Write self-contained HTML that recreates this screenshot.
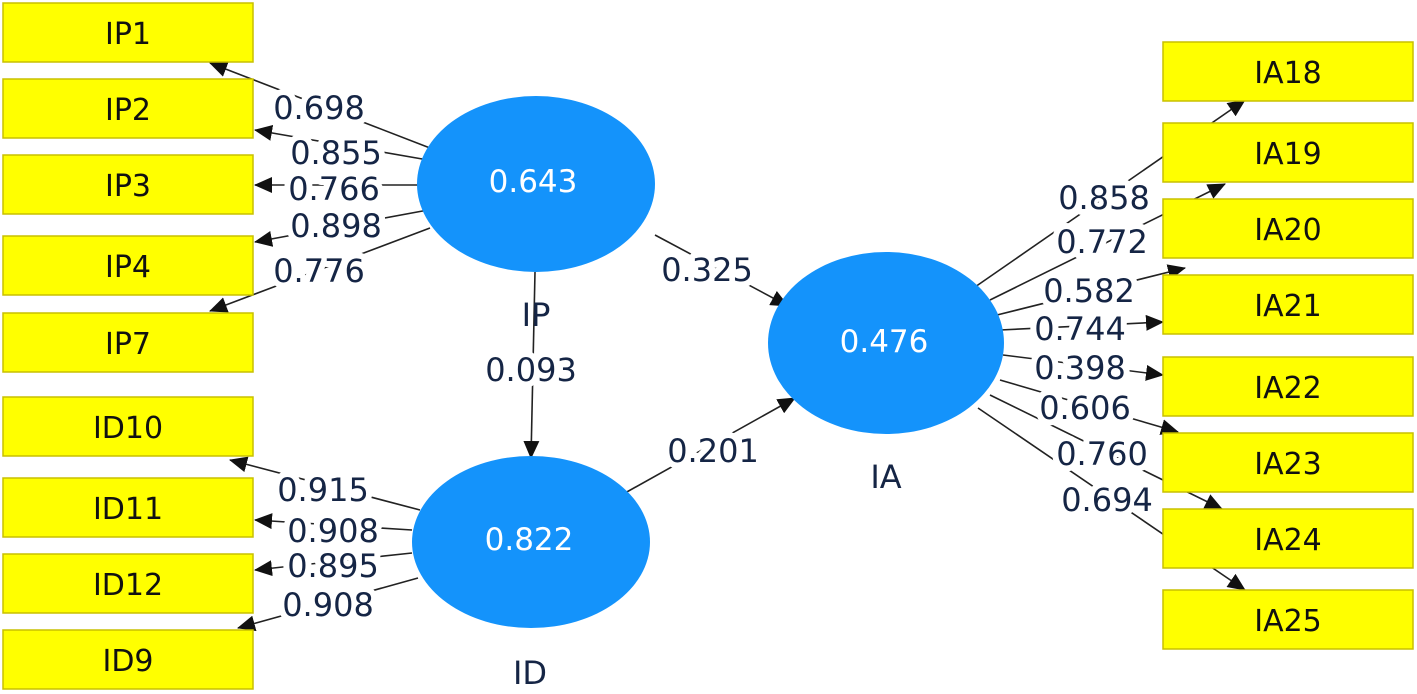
<!DOCTYPE html>
<html><head><meta charset="utf-8"><style>
html,body{margin:0;padding:0;background:#fff;}
svg{display:block;font-family:"DejaVu Sans","Liberation Sans",sans-serif;}
.bx{fill:#ffff00;stroke:#c8c000;stroke-width:1.5;}
.bt{font-size:30px;fill:#111;text-anchor:middle;}
.lb{font-size:32px;fill:#152545;text-anchor:middle;paint-order:stroke;stroke:#fff;stroke-width:12px;stroke-linejoin:round;}
.ct{font-size:31px;fill:#fff;text-anchor:middle;}
line{stroke:#222;stroke-width:1.6;}
</style></head><body>
<svg width="1417" height="694" viewBox="0 0 1417 694" xmlns="http://www.w3.org/2000/svg">
<defs><marker id="b" markerWidth="18" markerHeight="16" refX="17" refY="8" orient="auto" markerUnits="userSpaceOnUse"><path d="M0,0 L18,8 L0,16 z" fill="#111"/></marker></defs>
<g marker-end="url(#b)">
<line x1="430" y1="148" x2="210" y2="63"/>
<line x1="428" y1="160" x2="255" y2="130"/>
<line x1="418" y1="185" x2="255" y2="185"/>
<line x1="428" y1="210" x2="255" y2="242"/>
<line x1="430" y1="228" x2="210" y2="311"/>
<line x1="420" y1="510" x2="230" y2="460"/>
<line x1="412" y1="530" x2="255" y2="520"/>
<line x1="412" y1="553" x2="255" y2="570"/>
<line x1="418" y1="578" x2="238" y2="628"/>
<line x1="655" y1="235" x2="788" y2="306"/>
<line x1="625" y1="493" x2="795" y2="398"/>
<line x1="535" y1="272" x2="531" y2="458"/>
<line x1="975" y1="287" x2="1245" y2="100"/>
<line x1="990" y1="300" x2="1225" y2="184"/>
<line x1="997" y1="315" x2="1185" y2="268"/>
<line x1="1000" y1="330" x2="1163" y2="322"/>
<line x1="1003" y1="355" x2="1163" y2="375"/>
<line x1="1000" y1="380" x2="1178" y2="432"/>
<line x1="990" y1="395" x2="1222" y2="509"/>
<line x1="978" y1="408" x2="1245" y2="590"/>
</g>
<rect class="bx" x="3" y="3" width="250" height="59"/><text class="bt" x="128" y="44">IP1</text>
<rect class="bx" x="3" y="79" width="250" height="59"/><text class="bt" x="128" y="120">IP2</text>
<rect class="bx" x="3" y="155" width="250" height="59"/><text class="bt" x="128" y="196">IP3</text>
<rect class="bx" x="3" y="236" width="250" height="59"/><text class="bt" x="128" y="277">IP4</text>
<rect class="bx" x="3" y="313" width="250" height="59"/><text class="bt" x="128" y="354">IP7</text>
<rect class="bx" x="3" y="397" width="250" height="59"/><text class="bt" x="128" y="438">ID10</text>
<rect class="bx" x="3" y="478" width="250" height="59"/><text class="bt" x="128" y="519">ID11</text>
<rect class="bx" x="3" y="554" width="250" height="59"/><text class="bt" x="128" y="595">ID12</text>
<rect class="bx" x="3" y="630" width="250" height="59"/><text class="bt" x="128" y="671">ID9</text>
<rect class="bx" x="1163" y="42" width="250" height="59"/><text class="bt" x="1288" y="83">IA18</text>
<rect class="bx" x="1163" y="123" width="250" height="59"/><text class="bt" x="1288" y="164">IA19</text>
<rect class="bx" x="1163" y="199" width="250" height="59"/><text class="bt" x="1288" y="240">IA20</text>
<rect class="bx" x="1163" y="275" width="250" height="59"/><text class="bt" x="1288" y="316">IA21</text>
<rect class="bx" x="1163" y="357" width="250" height="59"/><text class="bt" x="1288" y="398">IA22</text>
<rect class="bx" x="1163" y="433" width="250" height="59"/><text class="bt" x="1288" y="474">IA23</text>
<rect class="bx" x="1163" y="509" width="250" height="59"/><text class="bt" x="1288" y="550">IA24</text>
<rect class="bx" x="1163" y="590" width="250" height="59"/><text class="bt" x="1288" y="631">IA25</text>
<ellipse cx="536" cy="184" rx="119" ry="88" fill="#1493fb"/>
<ellipse cx="886" cy="343" rx="118" ry="91" fill="#1493fb"/>
<ellipse cx="531" cy="542" rx="119" ry="86" fill="#1493fb"/>
<text class="ct" x="533" y="192">0.643</text>
<text class="ct" x="884" y="352">0.476</text>
<text class="ct" x="529" y="550">0.822</text>
<text class="lb" x="536" y="326" style="stroke:none">IP</text>
<text class="lb" x="886" y="488" style="stroke:none">IA</text>
<text class="lb" x="530" y="684" style="stroke:none">ID</text>
<text class="lb" x="319" y="119">0.698</text>
<text class="lb" x="336" y="164">0.855</text>
<text class="lb" x="334" y="200">0.766</text>
<text class="lb" x="336" y="237">0.898</text>
<text class="lb" x="319" y="282">0.776</text>
<text class="lb" x="323" y="501">0.915</text>
<text class="lb" x="333" y="542">0.908</text>
<text class="lb" x="333" y="577">0.895</text>
<text class="lb" x="328" y="616">0.908</text>
<text class="lb" x="707" y="281">0.325</text>
<text class="lb" x="713" y="462">0.201</text>
<text class="lb" x="531" y="381">0.093</text>
<text class="lb" x="1104" y="209">0.858</text>
<text class="lb" x="1102" y="253">0.772</text>
<text class="lb" x="1089" y="302">0.582</text>
<text class="lb" x="1080" y="340">0.744</text>
<text class="lb" x="1080" y="379">0.398</text>
<text class="lb" x="1085" y="419">0.606</text>
<text class="lb" x="1102" y="465">0.760</text>
<text class="lb" x="1107" y="511">0.694</text>
</svg>
</body></html>
